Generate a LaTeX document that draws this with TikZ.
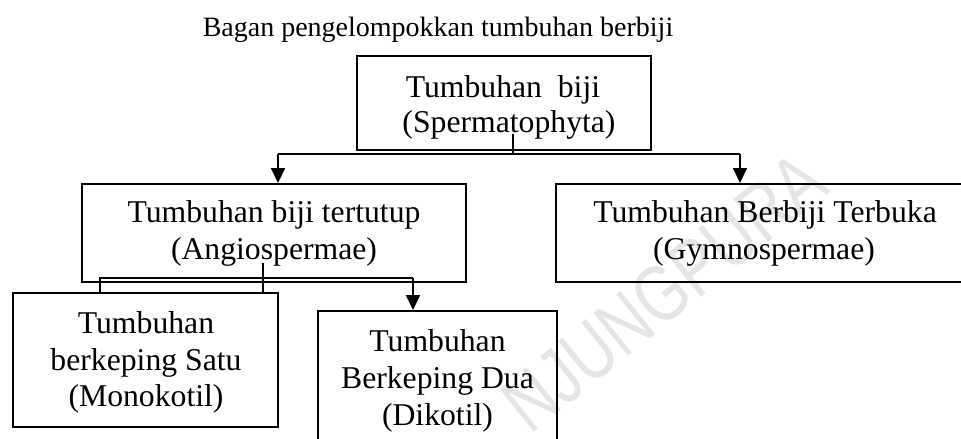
\documentclass[tikz,border=0pt]{standalone}
\usepackage{fontspec}
\setmainfont{Liberation Serif}
\newfontfamily\wmfont{Liberation Sans}
\usetikzlibrary{arrows.meta}
\begin{document}
\begin{tikzpicture}[x=1pt,y=-1pt,
  box/.style={draw, line width=2pt, rectangle, inner sep=0pt},
  txt/.style={font=\fontsize{31.7}{36}\selectfont, anchor=base, inner sep=0pt},
  conn/.style={line width=2pt},
  arr/.style={conn, -{Triangle[width=14pt,length=15pt]}},
  wmark/.style={font=\wmfont\fontsize{80}{80}\selectfont, text=gray!20, inner sep=0pt}]
\useasboundingbox (0,0) rectangle (961,439);
\clip (0,0) rectangle (961,439);
% watermark
\node[wmark, rotate=39] (wm) at (664,292) {\scalebox{0.78}[1]{NJUNGPURA}};
% title
\node[font=\fontsize{28}{34}\selectfont, anchor=base, inner sep=0pt] (title) at (438,36) {Bagan pengelompokkan tumbuhan berbiji};
% boxes
\node[box, minimum width=294pt, minimum height=94pt] (top) at (504,103) {};
\node[box, minimum width=384pt, minimum height=98pt] (angio) at (274,233) {};
\node[box, minimum width=418pt, minimum height=98pt] (gymno) at (765,233) {};
\node[box, minimum width=265pt, minimum height=134pt] (mono) at (145.5,360) {};
\node[box, minimum width=239pt, minimum height=144pt] (diko) at (437.5,383) {};
% texts
\node[txt] (t1a) at (503,97) {Tumbuhan\ \ biji};
\node[txt] (t1b) at (509,132) {(Spermatophyta)};
\node[txt] (t2a) at (274,222) {Tumbuhan biji tertutup};
\node[txt] (t2b) at (274,259) {(Angiospermae)};
\node[txt] (t3a) at (765,222) {Tumbuhan Berbiji Terbuka};
\node[txt] (t3b) at (764,259) {(Gymnospermae)};
\node[txt] (t4a) at (146,333) {Tumbuhan};
\node[txt] (t4b) at (146,370) {berkeping Satu};
\node[txt] (t4c) at (146,406) {(Monokotil)};
\node[txt] (t5a) at (437.5,351) {Tumbuhan};
\node[txt] (t5b) at (437.5,388) {Berkeping Dua};
\node[txt] (t5c) at (437.5,425) {(Dikotil)};
% connectors from top box
\coordinate (topstem) at (513,134);
\coordinate (tl) at (278,154);
\coordinate (tr) at (740,154);
\draw[conn] (topstem) -- (topstem |- tl);
\draw[conn] (tl) -- (tr);
\draw[arr] (tl) -- (tl |- angio.north);
\draw[arr] (tr) -- (tr |- gymno.north);
% connectors from angiosperm box
\coordinate (astem) at (263,263);
\coordinate (bl) at (100,278);
\coordinate (br) at (413,278);
\draw[conn] (astem) -- (astem |- mono.north);
\draw[conn] (bl |- mono.north) -- (bl) -- (br);
\draw[arr] (br) -- (br |- diko.north);
\end{tikzpicture}
\end{document}
